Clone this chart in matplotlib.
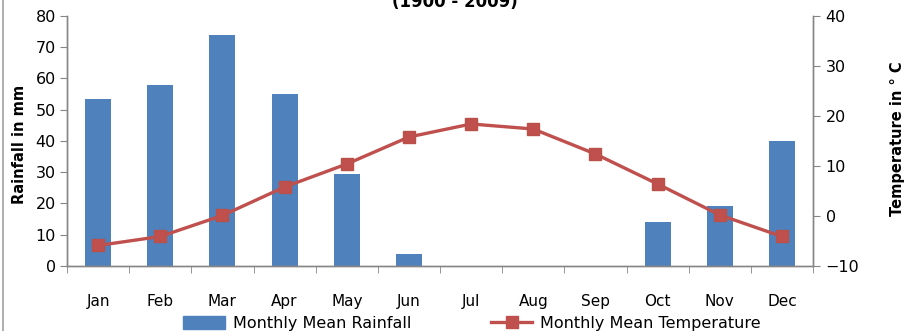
import numpy as np
import matplotlib
matplotlib.use("Agg")
import matplotlib.pyplot as plt
from matplotlib.lines import Line2D

months = ["Jan", "Feb", "Mar", "Apr", "May", "Jun",
          "Jul", "Aug", "Sep", "Oct", "Nov", "Dec"]
rainfall = [53.4, 58.0, 74.0, 55.0, 29.4, 3.8, 0, 0, 0, 14.0, 19.2, 40.0]
temperature = [-5.9, -4.1, 0.1, 5.8, 10.4, 15.8, 18.4, 17.4, 12.4, 6.4, 0.2, -4.1]

blue = "#4F81BD"
red = "#C0504D"
grey = "#868686"

plt.rcParams["font.family"] = ["DejaVu Sans"]

fig = plt.figure(figsize=(9.08, 3.31), dpi=100)
ax = fig.add_axes([0.0738, 0.1964, 0.8216, 0.7553])
x = np.arange(len(months))

ax.bar(x, rainfall, width=0.42, color=blue, zorder=2)
ax.set_xlim(-0.5, len(months) - 0.5)
ax.set_ylim(0, 80)
ax.set_yticks(range(0, 81, 10))
ax.set_xticks(x)
ax.set_xticklabels(months, fontsize=11)
ax.tick_params(axis="x", length=0, pad=20)
ax.set_xticks(np.arange(-0.5, len(months), 1), minor=True)
ax.tick_params(axis="x", which="minor", length=5, color=grey, direction="out")
ax.tick_params(axis="y", length=5, color=grey, labelsize=11.5, pad=3)

ax2 = ax.twinx()
ax2.plot(x, temperature, color=red, lw=2.4, marker="s", markersize=9,
         markerfacecolor=red, markeredgecolor="#B9504A", zorder=3)
ax2.set_ylim(-10, 40)
ax2.set_yticks(range(-10, 41, 10))
ax2.tick_params(axis="y", length=5, color=grey, labelsize=11.5, pad=4)

for a in (ax, ax2):
    a.spines["top"].set_visible(False)
    for s in ("left", "right", "bottom"):
        a.spines[s].set_color(grey)
        a.spines[s].set_linewidth(1.0)

fig.text(0.501, 1 - 7 / 331, "(1900 - 2009)", ha="center", va="baseline",
         fontsize=12, fontweight="bold")
fig.text(0.021, 0.565, "Rainfall in mm", rotation=90, ha="center", va="center",
         fontsize=10.5, fontweight="bold")
fig.text(0.988, 0.58, "Temperature in \u00b0 C", rotation=90, ha="center",
         va="center", fontsize=10.5, fontweight="bold")

# outer chart frame on the left
fig.add_artist(Line2D([0.0035, 0.0035], [0, 1], transform=fig.transFigure,
                      color="#A0A0A0", lw=1.2))

handles = [
    plt.Rectangle((0, 0), 1, 1, color=blue),
    Line2D([], [], color=red, lw=2.4, marker="s", markersize=9),
]
fig.legend(handles, ["Monthly Mean Rainfall", "Monthly Mean Temperature"],
           loc="center", bbox_to_anchor=(0.52, 0.022), ncol=2, frameon=False,
           fontsize=11.5, handlelength=2.6, handleheight=0.9,
           columnspacing=5.0, handletextpad=0.5)

fig.savefig("out.png", dpi=100)
